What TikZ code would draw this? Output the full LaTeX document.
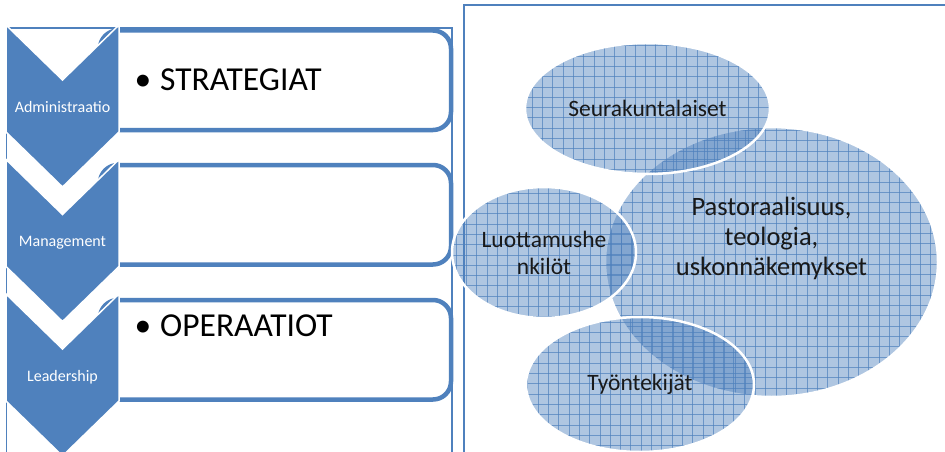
\documentclass[tikz,border=0pt]{standalone}
\usepackage{fontspec}
\setmainfont{Carlito}
\usetikzlibrary{shapes.geometric}
\definecolor{accent}{HTML}{4F81BD}
\begin{document}
\begin{tikzpicture}[x=1pt,y=-1pt,
  frameline/.style={draw=accent, line width=1.5pt},
  stepbox/.style={draw=accent, line width=4.5pt, fill=white, rounded corners=18pt},
  chev/.style={fill=accent, draw=white, line width=1.5pt, line join=miter},
  chevlabel/.style={text=white, anchor=base, inner sep=0pt, font=\fontsize{16}{19}\selectfont},
  bigtext/.style={anchor=base west, inner sep=0pt, font=\fontsize{33.5}{40}\selectfont},
  bulletmark/.style={anchor=base, inner sep=0pt, font=\fontsize{33.5}{40}\selectfont},
  gridln/.style={draw=accent, draw opacity=0.7, line width=0.8pt},
  % #1,#2: centre of the bubble, so that the grid lines up across all bubbles
  bubble/.style 2 args={ellipse, inner sep=0pt, draw=white, line width=2.5pt,
    fill=accent, fill opacity=0.45, text opacity=1, text=black!90,
    font=\fontsize{23.5}{27}\selectfont, align=center,
    path picture={
      \foreach \i in {0,...,48}
        \draw[gridln] ({456.8+\i*10.3-#1},{-10-#2}) -- ++(0,480);
      \foreach \j in {0,...,46}
        \draw[gridln] ({440-#1},{-3.5+\j*10.3-#2}) -- ++(520,0);
    }},
  bubbletext/.style={align=center, text=black!90, inner sep=0pt}
]
\clip (0,0) rectangle (945,452);
\fill[white] (0,0) rectangle (945,452);

% left panel frame
\draw[frameline] (6.5,28) rectangle (452,470);

% text boxes
\draw[stepbox] (100,30.5) rectangle (451,130);
\draw[stepbox] (100,165) rectangle (451,264.5);
\draw[stepbox] (100,300) rectangle (451,399.5);

% chevrons
\foreach \y in {25,159.5,294}
  \path[chev] (6,\y) -- (62.5,\y+55) -- (119,\y) -- (119,\y+107)
     -- (62.5,\y+162) -- (6,\y+107) -- cycle;

\node[chevlabel] (adm) at (62.5,112) {Administraatio};
\node[chevlabel] (man) at (62.5,246.5) {Management};
\node[chevlabel] (lea) at (62.5,381.5) {Leadership};

\node[bulletmark] (b1) at (143,90) {•};
\node[bigtext] (strat) at (160,90) {STRATEGIAT};
\node[bulletmark] (b3) at (143,336) {•};
\node[bigtext] (oper) at (160,336) {OPERAATIOT};

% right panel frame
\draw[frameline] (464,5) rectangle (960,470);

% overlapping bubbles
\node[bubble={771.5}{262}, minimum width=333pt, minimum height=270pt] (past) at (771.5,262) {};
\node[bubbletext, font=\fontsize{26.5}{30}\selectfont] (pasttext) at (771.5,238)
  {Pastoraalisuus,\\teologia,\\uskonnäkemykset};
\node[bubble={647.5}{108.5}, minimum width=245pt, minimum height=131pt] (seur) at (647.5,108.5) {Seurakuntalaiset};
\node[bubble={544}{252.5}, minimum width=184pt, minimum height=131pt] (luot) at (544,252.5) {Luottamushe\\nkilöt};
\node[bubble={640}{384.5}, minimum width=228pt, minimum height=135pt] (tyon) at (640,384.5) {Työntekijät};
\end{tikzpicture}
\end{document}
